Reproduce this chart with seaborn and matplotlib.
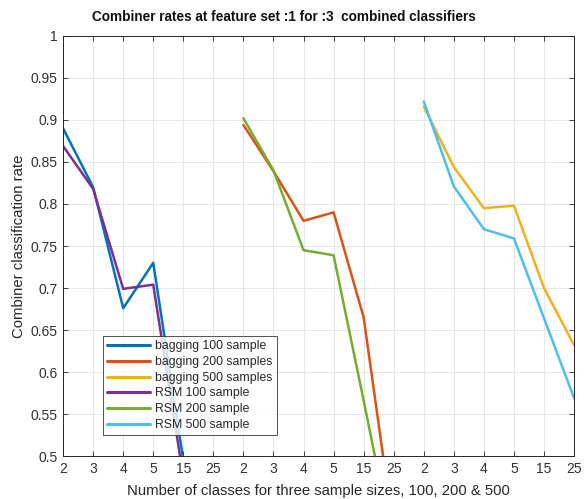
import numpy as np
import pandas as pd
import matplotlib
matplotlib.use("Agg")
import matplotlib.pyplot as plt
import seaborn as sns

# Class counts evaluated within each sample-size block
class_counts = [2, 3, 4, 5, 15, 25]
tick_labels = [str(c) for c in class_counts] * 3

series_names = [
    "bagging 100 sample",
    "bagging 200 samples",
    "bagging 500 samples",
    "RSM 100 sample",
    "RSM 200 sample",
    "RSM 500 sample",
]

# Combiner classification rates per series (one block of six class counts each)
bagging_100 = [0.890, 0.820, 0.676, 0.730, 0.495, 0.400]
bagging_200 = [0.894, 0.839, 0.780, 0.790, 0.665, 0.410]
bagging_500 = [0.916, 0.844, 0.795, 0.798, 0.700, 0.632]
rsm_100 = [0.869, 0.818, 0.699, 0.704, 0.475, 0.380]
rsm_200 = [0.902, 0.840, 0.745, 0.739, 0.566, 0.390]
rsm_500 = [0.922, 0.821, 0.770, 0.759, 0.664, 0.569]

# Which block (sample size) each series belongs to
series_block = [0, 1, 2, 0, 1, 2]
series_values = [bagging_100, bagging_200, bagging_500, rsm_100, rsm_200, rsm_500]

colors = ["#0072BD", "#D95319", "#EDB120", "#7E2F8E", "#77AC30", "#4DBEEE"]

rows = []
n = len(class_counts)
for name, block, vals in zip(series_names, series_block, series_values):
    for i, v in enumerate(vals):
        rows.append({"pos": block * n + i + 1, "rate": v, "series": name})
df = pd.DataFrame(rows)

sns.set_theme(style="white")
plt.rcParams["font.family"] = ["Liberation Sans", "DejaVu Sans"]

fig = plt.figure(figsize=(5.84, 4.99), dpi=100)
ax = fig.add_axes([0.108, 0.086, 0.875, 0.842])

sns.lineplot(
    data=df, x="pos", y="rate", hue="series", hue_order=series_names,
    palette=colors, linewidth=1.8, sort=False, estimator=None, ax=ax,
)

ax.set_xlim(1, 3 * n)
ax.set_ylim(0.5, 1.0)
ax.set_xticks(np.arange(1, 3 * n + 1))
ax.set_xticklabels(tick_labels)
yt = np.round(np.arange(0.5, 1.0001, 0.05), 2)
ax.set_yticks(yt)
ax.set_yticklabels([("%g" % t) for t in yt])

ax.grid(True, color="#e6e6e6", linewidth=0.7)
ax.set_axisbelow(True)
for s in ax.spines.values():
    s.set_color("#262626")
    s.set_linewidth(0.7)
ax.tick_params(axis="both", which="both", direction="in", length=3.5,
               width=0.6, color="#262626", labelsize=10, labelcolor="#303030",
               top=True, right=True, bottom=True, left=True, pad=4)

fig.text(284 / 584, 1 - 17 / 499,
         "Combiner rates at feature set :1 for :3  combined classifiers",
         fontsize=9.8, fontweight="bold", color="#111111",
         ha="center", va="center")
ax.set_xlabel("Number of classes for three sample sizes, 100, 200 & 500",
              fontsize=10.7, color="#262626", labelpad=6)
ax.set_ylabel("Combiner classification rate", fontsize=10.7, color="#262626",
              labelpad=3)

leg = ax.legend(loc="lower left", bbox_to_anchor=(0.078, 0.05), fontsize=8.8,
                frameon=True, fancybox=False, edgecolor="#262626",
                handlelength=3.5, handletextpad=0.4, labelspacing=0.3,
                borderpad=0.35, borderaxespad=0)
leg.get_frame().set_linewidth(0.7)
for line in leg.get_lines():
    line.set_linewidth(2.2)

fig.savefig("out.png", dpi=100)
